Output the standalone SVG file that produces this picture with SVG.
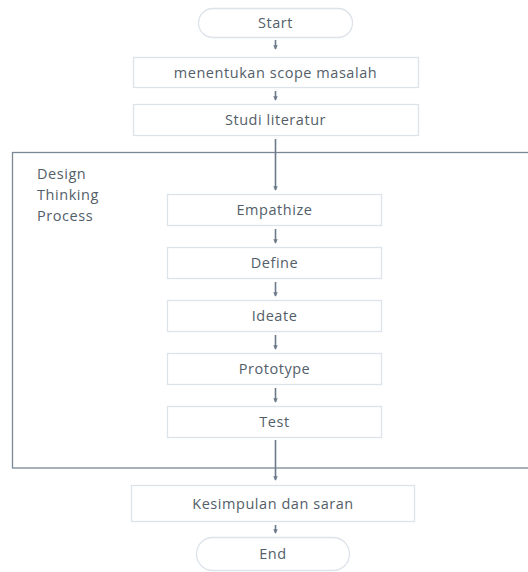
<svg xmlns="http://www.w3.org/2000/svg" width="528" height="572" viewBox="0 0 528 572">
<style>
.box{fill:#fff;stroke:#dde3ea;stroke-width:1.3}
.t{font-family:"Open Sans","Noto Sans",sans-serif;font-size:14.5px;font-weight:500;fill:#535e69;text-anchor:middle;dominant-baseline:central;letter-spacing:0.55px}
.lbl{font-family:"Open Sans","Noto Sans",sans-serif;font-size:14.5px;font-weight:500;fill:#535e69;letter-spacing:0.55px}
.c{stroke:#6b7a89;stroke-width:1.6;fill:none}
.frame{fill:none;stroke:#7a8794;stroke-width:1.3}
</style>
<defs>
<marker id="ah" viewBox="0 0 6 6" refX="5" refY="3" markerWidth="4.5" markerHeight="4.5" orient="auto" markerUnits="userSpaceOnUse">
<path d="M0,0 L6,3 L0,6 Z" fill="#6b7a89"/>
</marker>
</defs>
<g id="container">
<rect class="frame" x="12.5" y="152.5" width="530" height="315.5"/>
<text class="lbl" x="37" y="179">Design</text>
<text class="lbl" x="37" y="200">Thinking</text>
<text class="lbl" x="37" y="221">Process</text>
</g>
<g id="connectors">
<line class="c" x1="275.5" y1="40" x2="275.5" y2="49" marker-end="url(#ah)"/>
<line class="c" x1="275.5" y1="91" x2="275.5" y2="100" marker-end="url(#ah)"/>
<line class="c" x1="275.5" y1="139" x2="275.5" y2="190" marker-end="url(#ah)"/>
<line class="c" x1="275.5" y1="229" x2="275.5" y2="243" marker-end="url(#ah)"/>
<line class="c" x1="275.5" y1="282" x2="275.5" y2="296" marker-end="url(#ah)"/>
<line class="c" x1="275.5" y1="335" x2="275.5" y2="349" marker-end="url(#ah)"/>
<line class="c" x1="275.5" y1="388" x2="275.5" y2="402" marker-end="url(#ah)"/>
<line class="c" x1="275.5" y1="440" x2="275.5" y2="480" marker-end="url(#ah)"/>
<line class="c" x1="275.5" y1="525" x2="275.5" y2="533" marker-end="url(#ah)"/>
</g>
<g id="start">
<rect class="box" x="198.5" y="8.5" width="154" height="29" rx="14.5"/>
<text class="t" x="275.5" y="22.5">Start</text>
</g>
<g id="scope">
<rect class="box" x="133.5" y="57.5" width="285" height="30"/>
<text class="t" x="275.5" y="72">menentukan scope masalah</text>
</g>
<g id="studi">
<rect class="box" x="133.5" y="104.5" width="285" height="31"/>
<text class="t" x="275.5" y="119.5">Studi literatur</text>
</g>
<g id="empathize">
<rect class="box" x="167.5" y="194.5" width="214" height="31"/>
<text class="t" x="274.5" y="209.5">Empathize</text>
</g>
<g id="define">
<rect class="box" x="167.5" y="247.5" width="214" height="31"/>
<text class="t" x="274.5" y="262.5">Define</text>
</g>
<g id="ideate">
<rect class="box" x="167.5" y="300.5" width="214" height="31"/>
<text class="t" x="274.5" y="315.5">Ideate</text>
</g>
<g id="prototype">
<rect class="box" x="167.5" y="353.5" width="214" height="31"/>
<text class="t" x="274.5" y="368.5">Prototype</text>
</g>
<g id="test">
<rect class="box" x="167.5" y="406.5" width="214" height="31"/>
<text class="t" x="274.5" y="421.5">Test</text>
</g>
<g id="kesimpulan">
<rect class="box" x="131.5" y="485.5" width="283" height="36"/>
<text class="t" x="273" y="503">Kesimpulan dan saran</text>
</g>
<g id="end">
<rect class="box" x="196.5" y="537.5" width="153" height="33" rx="16.5"/>
<text class="t" x="273" y="553.5">End</text>
</g>
</svg>
